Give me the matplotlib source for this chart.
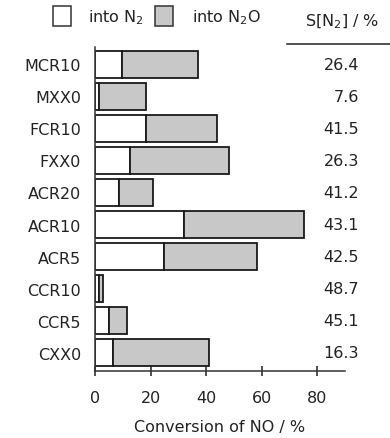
import matplotlib
matplotlib.use("Agg")
import matplotlib.pyplot as plt
from matplotlib.patches import Rectangle
from matplotlib.transforms import blended_transform_factory

plt.rcParams["font.family"] = ["DejaVu Sans"]
FS = 11.5
INK = "#222222"

samples = ["MCR10", "MXX0", "FCR10", "FXX0", "ACR20",
           "ACR10", "ACR5", "CCR10", "CCR5", "CXX0"]
into_n2 = [9.6, 1.5, 18.2, 12.6, 8.6, 32.0, 24.8, 1.4, 5.2, 6.6]
total_conv = [36.9, 18.4, 43.9, 48.1, 20.8, 75.2, 58.4, 3.0, 11.4, 40.9]
sel_n2 = ["26.4", "7.6", "41.5", "26.3", "41.2", "43.1", "42.5", "48.7", "45.1", "16.3"]
xticks = [0, 20, 40, 60, 80]

into_n2o = [t - a for t, a in zip(total_conv, into_n2)]
ypos = list(range(len(samples)))

W, H = 390, 439
fig = plt.figure(figsize=(W / 100, H / 100), dpi=100)
ax = fig.add_axes([95 / W, 1 - 372 / H, 250 / W, 324 / H])

ax.barh(ypos, into_n2, height=0.84, color="white", edgecolor="#1a1a1a", linewidth=1.3)
ax.barh(ypos, into_n2o, left=into_n2, height=0.84, color="#c8c8c8",
        edgecolor="#1a1a1a", linewidth=1.3)

ax.set_xlim(0, 90)
ax.set_ylim(9.57, -0.54)
ax.set_yticks(ypos)
ax.set_yticklabels(samples, fontsize=FS, color=INK)
ax.tick_params(axis="y", length=0, pad=10)
ax.set_xticks(xticks)
ax.tick_params(axis="x", direction="inout", length=7, width=1.1, labelsize=FS,
               pad=10, colors=INK)
for s in ("top", "right"):
    ax.spines[s].set_visible(False)
for s in ("left", "bottom"):
    ax.spines[s].set_linewidth(1.1)
    ax.spines[s].set_color("#333333")
ax.set_xlabel("Conversion of NO / %", fontsize=FS, color=INK, labelpad=10)

# selectivity column on the right
col = blended_transform_factory(fig.transFigure, ax.transData)
for y, s in zip(ypos, sel_n2):
    ax.text(359 / W, y, s, transform=col, ha="right", va="center",
            fontsize=FS, color=INK)
fig.text(342 / W, 1 - 22 / H, "S[N$_2$] / %", ha="center", va="center",
         fontsize=FS, color=INK)
fig.add_artist(plt.Line2D([287 / W, 1.0], [1 - 45 / H, 1 - 45 / H],
                          transform=fig.transFigure, color=INK, linewidth=1.1))

# legend drawn by hand at the top
for x0, fc, label, tx in [(53, "white", "into N$_2$", 88),
                          (155, "#c8c8c8", "into N$_2$O", 192)]:
    fig.add_artist(Rectangle((x0 / W, 1 - 27 / H), 18 / W, 20 / H, facecolor=fc,
                             edgecolor="#333333", linewidth=1.1,
                             transform=fig.transFigure))
    fig.text(tx / W, 1 - 18 / H, label, ha="left", va="center",
             fontsize=FS, color=INK)

fig.savefig("out.png", dpi=100)
